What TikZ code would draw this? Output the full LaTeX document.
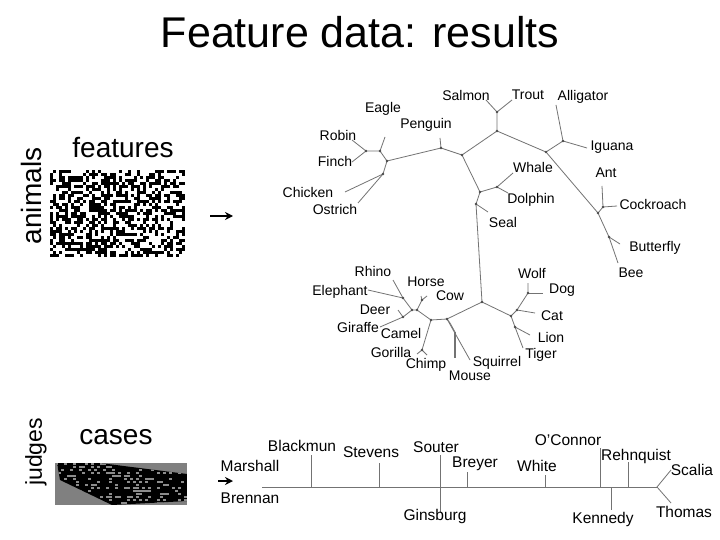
\documentclass[tikz,border=0pt]{standalone}
\usepackage{fontspec}
\setmainfont{Liberation Sans}
\usetikzlibrary{arrows.meta}
\begin{document}
\begin{tikzpicture}[x=1pt,y=-1pt,
  br/.style={draw=black!55,line width=0.8pt},
  arr/.style={-{Stealth[length=8pt,width=8pt]},line width=1.5pt},
  lab/.style={font=\fontsize{14}{16}\selectfont,inner sep=0pt},
  jl/.style={font=\fontsize{15.5}{17}\selectfont,inner sep=0pt}]
\useasboundingbox (0,0) rectangle (720,540);
\fill[white] (0,0) rectangle (720,540);
\node (title) at (360,32) {\fontsize{43}{46}\selectfont Feature data: results};
\node (feat) at (123,148) {\fontsize{28}{30}\selectfont features};
\node (anim) [rotate=90] at (31,196) {\fontsize{28}{30}\selectfont animals};
\node (judg) [rotate=90] at (36,452) {\fontsize{23}{25}\selectfont judges};
\node (cases) at (116,437) {\fontsize{28}{30}\selectfont cases};
% animal matrix
\pgfmathsetseed{7}
\foreach \i in {0,...,44}{\foreach \j in {0,...,28}{
  \pgfmathparse{rnd<0.5?1:0}
  \ifnum\pgfmathresult=1 \fill[black] (50+3*\i,170+3*\j) rectangle +(3,3);\fi}}
% judges matrix
\fill[black!50] (55,463) rectangle (187,505);
\begin{scope}
\clip (57,463) -- (100,463) -- (187,474) -- (187,501) -- (112,505) -- (60,480) -- cycle;
\fill[black] (55,463) rectangle (187,505);
\foreach \i in {0,...,43}{\foreach \j in {0,...,13}{
  \pgfmathparse{rnd<0.3?1:0}
  \ifnum\pgfmathresult=1 \fill[black!45] (55+3*\i,463+3*\j) rectangle +(3,1.5);\fi}}
\end{scope}
\coordinate (a1s) at (210,216); \coordinate (a1e) at (233,216);
\coordinate (a2s) at (218,481); \coordinate (a2e) at (233,481);
\draw[arr] (a1s) -- (a1e);
\draw[arr] (a2s) -- (a2e);
% tree coordinates
\foreach \n/\p in {fish/{497,112},top/{497,131},n1/{462,155},peng/{441,148},bird/{387,161},
 b2/{380,151},rf/{366,151},eagleE/{385,137},co/{383,174},rep/{546,152},ai/{563,141},allE/{556,105},
 iguE/{587,148},ins/{598,213},ac/{603,207},antE/{602,186},cocE/{617,206},bf/{609,237},bfE/{620,244},
 beeE/{618,263},mam/{480,192},wd/{497,187},whE/{513,173},doE/{508,193},sealN/{476,204},sealE/{488,212},
 mm/{482,302},carn/{511,316},wdN/{528,293},wolfE/{528,283},dogE/{543,293},catN/{517,310},catE/{535,313},
 lionN/{515,327},lionE/{530,335},tigE/{523,348},lf/{447,319},sqE/{470,360},ms/{450,323},moT/{455,332},
 moE/{455,358},pr/{431,320},gc/{422,350},gorE/{417,354},chE/{427,355},ung/{417,310},ung2/{412,310},
 hc/{422,300},hoE/{421,296},cowE/{427,296},re/{403,298},rhE/{393,280},elE/{368,290},dg/{403,317},
 deE/{398,310},giE/{380,327},salE/{486,100},troE/{512,100},penE/{440,138},robE/{352,140},finE/{352,162},
 chiE/{345,192},ostE/{358,203}}{\coordinate (\n) at (\p);}
\draw[br] (salE)--(fish)--(troE); \draw[br] (fish)--(top)--(n1)--(peng)--(bird);
\draw[br] (peng)--(penE); \draw[br] (bird)--(b2)--(rf); \draw[br] (b2)--(eagleE);
\draw[br] (rf)--(robE); \draw[br] (rf)--(finE); \draw[br] (bird)--(co)--(chiE); \draw[br] (co)--(ostE);
\draw[br] (top)--(rep)--(ai)--(allE); \draw[br] (ai)--(iguE); \draw[br] (rep)--(ins)--(ac)--(antE);
\draw[br] (ac)--(cocE); \draw[br] (ins)--(bf)--(bfE); \draw[br] (bf)--(beeE);
\draw[br] (n1)--(mam)--(wd)--(whE); \draw[br] (wd)--(doE); \draw[br] (mam)--(sealN)--(sealE);
\draw[br] (sealN)--(mm)--(carn)--(catN)--(wdN)--(wolfE); \draw[br] (wdN)--(dogE);
\draw[br] (catN)--(catE); \draw[br] (carn)--(lionN)--(lionE); \draw[br] (lionN)--(tigE);
\draw[br] (mm)--(lf)--(pr)--(ung)--(ung2)--(re)--(rhE); \draw[br] (re)--(elE);
\draw[br] (ung)--(hc)--(hoE); \draw[br] (hc)--(cowE); \draw[br] (ung2)--(dg)--(deE); \draw[br] (dg)--(giE);
\draw[br] (pr)--(gc)--(gorE); \draw[br] (gc)--(chE);
\draw[br] (lf)--(sqE); \draw[br] (lf)--(ms)--(moT); \draw[br,line width=2pt] (moT)--(moE);
\foreach \n in {fish,top,n1,peng,bird,b2,rf,co,rep,ai,ins,ac,bf,mam,wd,sealN,mm,carn,wdN,catN,lionN,lf,pr,gc,ung,ung2,hc,re,dg}
  \fill[black!70] (\n) circle (1.3pt);
\foreach \n/\p/\t in {lsal/{466,95}/Salmon,ltro/{528,95}/Trout,lall/{583,97}/Alligator,leag/{383,109}/Eagle,
 lpen/{426,125}/Penguin,lrob/{338,135}/Robin,lfin/{335,161}/Finch,lchi/{308,192}/Chicken,lost/{335,209}/Ostrich,
 ligu/{612,147}/Iguana,lwha/{533,167}/Whale,lant/{606,173}/Ant,ldol/{531,200}/Dolphin,lcoc/{653,204}/Cockroach,
 lsea/{503,222}/Seal,lbut/{655,248}/Butterfly,lbee/{631,273}/Bee,lrhi/{373,271}/Rhino,lwol/{532,273}/Wolf,
 lhor/{426,282}/Horse,ldog/{562,290}/Dog,lele/{340,292}/Elephant,lcow/{450,296}/Cow,ldee/{375,310}/Deer,
 lcat/{552,316}/Cat,lgir/{358,327}/Giraffe,lcam/{401,333}/Camel,llio/{551,337}/Lion,lgor/{391,352}/Gorilla,
 ltig/{541,355}/Tiger,lchm/{426,365}/Chimp,lsqu/{497,363}/Squirrel,lmou/{470,376}/Mouse}
  \node[lab] (\n) at (\p) {\t};
% judges
\foreach \n/\p in {jm/{262,487},jbl/{311,487},jst/{379,487},jso/{440,487},jbr/{467,487},jwh/{545,487},
 joc/{600,487},jke/{611,487},jre/{628,487},jsc/{657,487},jblT/{311,455},jstT/{379,463},jsoT/{440,455},
 jgiB/{440,512},jbrT/{467,472},jwhT/{545,475},jocT/{600,448},jkeB/{611,510},jreT/{628,462},
 jscE/{671,470},jthE/{671,503}}{\coordinate (\n) at (\p);}
\draw[br] (jm)--(jsc); \draw[br] (jbl)--(jblT); \draw[br] (jst)--(jstT); \draw[br] (jsoT)--(jgiB);
\draw[br] (jbr)--(jbrT); \draw[br] (jwh)--(jwhT); \draw[br] (joc)--(jocT); \draw[br] (jke)--(jkeB);
\draw[br] (jre)--(jreT); \draw[br] (jscE)--(jsc)--(jthE);
\foreach \n/\p/\t in {lmar/{250,466}/Marshall,lbre/{250,498}/Brennan,lbla/{302,446}/Blackmun,
 lste/{371,452}/Stevens,lsou/{436,447}/Souter,lgin/{435,516}/Ginsburg,lbry/{475,464}/Breyer,
 lwhi/{537,466}/White,loc/{568,440}/O’Connor,lken/{603,519}/Kennedy,lreh/{636,456}/Rehnquist,
 lsca/{692,470}/Scalia,ltho/{684,512}/Thomas}
  \node[jl] (\n) at (\p) {\t};
\end{tikzpicture}
\end{document}
